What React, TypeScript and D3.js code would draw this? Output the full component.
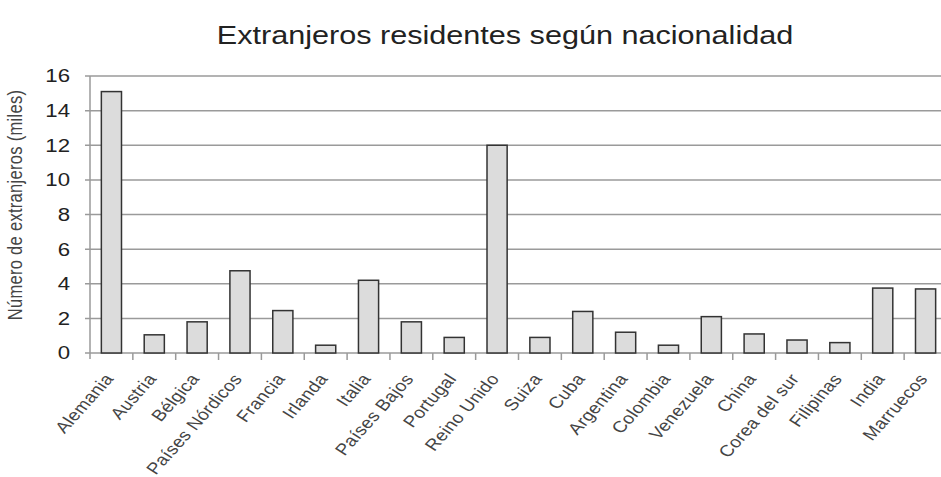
import React from "react";
import * as d3 from "d3";

const categories = [
  "Alemania", "Austria", "Bélgica", "Países Nórdicos", "Francia", "Irlanda", "Italia",
  "Países Bajos", "Portugal", "Reino Unido", "Suiza", "Cuba", "Argentina", "Colombia",
  "Venezuela", "China", "Corea del sur", "Filipinas", "India", "Marruecos",
];
const values = [15.1, 1.05, 1.8, 4.75, 2.45, 0.45, 4.2, 1.8, 0.9, 12.0, 0.9, 2.4, 1.2, 0.45, 2.1, 1.1, 0.75, 0.6, 3.75, 3.7];
const yTicks = [0, 2, 4, 6, 8, 10, 12, 14, 16];
const title = "Extranjeros residentes según nacionalidad";
const yLabel = "Número de extranjeros (miles)";

export default function App() {
  const W = 941, H = 477;
  const left = 90, right = 947, top = 76, bottom = 353;
  const sx = 1.2;
  const x = d3.scaleBand<string>().domain(categories).range([left, right]).paddingInner(0.53).paddingOuter(0.265);
  const xb = d3.scaleBand<string>().domain(categories).range([left, right]);
  const y = d3.scaleLinear().domain([0, 16]).range([bottom, top]);
  const font = "Liberation Sans, Arial, sans-serif";
  return (
    <svg width={W} height={H} style={{ position: "absolute", left: 0, top: 0, background: "#fff" }} fontFamily={font}>
      <text transform={`translate(505,44) scale(${sx},1)`} textAnchor="middle" fontSize={25.5} fill="#222">{title}</text>
      {yTicks.map((t) => (
        <g key={t}>
          <line x1={left - 5} x2={W} y1={y(t)} y2={y(t)} stroke="#9a9a9a" strokeWidth={1.5} />
          <text transform={`translate(70,${y(t)}) scale(${sx},1)`} dy="0.35em" textAnchor="end" fontSize={18.5} fill="#222">{t}</text>
        </g>
      ))}
      <line x1={left} x2={left} y1={top} y2={bottom + 6} stroke="#9a9a9a" strokeWidth={1.5} />
      {categories.map((c, i) => (
        <line key={"t" + i} x1={(xb(c) as number) + xb.bandwidth()} x2={(xb(c) as number) + xb.bandwidth()} y1={bottom} y2={bottom + 7} stroke="#9a9a9a" strokeWidth={1.5} />
      ))}
      {categories.map((c, i) => (
        <rect key={"b" + i} x={x(c)} y={y(values[i])} width={x.bandwidth()} height={bottom - y(values[i])} fill="#dcdcdc" stroke="#333" strokeWidth={1.5} />
      ))}
      {categories.map((c, i) => {
        const cx = (xb(c) as number) + xb.bandwidth() / 2 + 3;
        return (
          <text key={"l" + i} transform={`translate(${cx},${bottom + 26}) scale(${sx},1) rotate(-53)`} textAnchor="end" fontSize={16} letterSpacing={0.3} fill="#444">{c}</text>
        );
      })}
      <text transform={`translate(22,205) scale(${sx},1) rotate(-90)`} textAnchor="middle" fontSize={16.5} letterSpacing={0.3} fill="#444">{yLabel}</text>
    </svg>
  );
}
